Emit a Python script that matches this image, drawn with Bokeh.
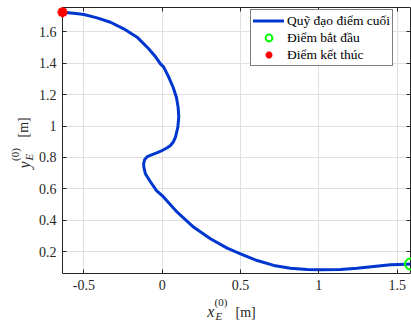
import math
from bokeh.plotting import figure
from bokeh.models import Range1d, FixedTicker, LinearAxis, Legend, LegendItem
from bokeh.core.properties import value
from bokeh.embed import file_html
from bokeh.resources import INLINE

# Trajectory of the end effector (from start to end)
traj_x = [1.585, 1.564, 1.457, 1.350, 1.244, 1.138, 1.010, 0.925, 0.819, 0.712,
          0.606, 0.500, 0.415, 0.308, 0.202, 0.096, 0.000, -0.036, -0.075, -0.107,
          -0.117, -0.118, -0.112, -0.095, -0.064, -0.030, 0.000, 0.030, 0.053, 0.072,
          0.085, 0.100, 0.106, 0.102, 0.091, 0.070, 0.042, 0.010, -0.011, -0.045,
          -0.086, -0.160, -0.245, -0.330, -0.415, -0.500, -0.564, -0.636]
traj_y = [0.121, 0.120, 0.116, 0.105, 0.094, 0.086, 0.084, 0.086, 0.094, 0.112,
          0.143, 0.186, 0.222, 0.282, 0.355, 0.451, 0.557, 0.589, 0.645, 0.696,
          0.738, 0.760, 0.785, 0.805, 0.818, 0.830, 0.844, 0.860, 0.876, 0.900,
          0.929, 0.992, 1.056, 1.120, 1.183, 1.247, 1.311, 1.375, 1.396, 1.445,
          1.492, 1.566, 1.619, 1.661, 1.689, 1.710, 1.718, 1.725]
start_x = [1.585]
start_y = [0.121]
end_x = [-0.636]
end_y = [1.725]

x_ticks = [-0.5, 0, 0.5, 1, 1.5]
x_tick_labels = ["-0.5", "0", "0.5", "1", "1.5"]
y_ticks = [0.2, 0.4, 0.6, 0.8, 1.0, 1.2, 1.4, 1.6]
y_tick_labels = ["0.2", "0.4", "0.6", "0.8", "1", "1.2", "1.4", "1.6"]

legend_labels = ["Quỹ đạo điểm cuối", "Điểm bắt đầu", "Điểm kết thúc"]

FONT = "Liberation Serif"
AX_COLOR = "#262626"

X0, X1 = -0.636, 1.585
Y0, Y1 = 0.0605, 1.755
FL, FR, FT, FB = 62, 410, 7, 273  # frame edges in canvas pixels

p = figure(width=411, height=321, output_backend="svg", toolbar_location=None,
           x_range=Range1d(X0, X1), y_range=Range1d(Y0, Y1),
           min_border_left=FL, min_border_right=411 - FR, min_border_top=FT,
           min_border_bottom=321 - FB)
p.background_fill_color = "white"
p.border_fill_color = "white"
p.outline_line_color = None

def style_axis(ax, labels, ticks, show_labels):
    ax.ticker = FixedTicker(ticks=ticks)
    ax.axis_line_color = AX_COLOR
    ax.axis_line_width = 1
    ax.major_tick_line_color = AX_COLOR
    ax.major_tick_in = 4
    ax.major_tick_out = 0
    ax.minor_tick_line_color = None
    if show_labels:
        ax.major_label_overrides = {t: l for t, l in zip(ticks, labels)}
        ax.major_label_text_font = FONT
        ax.major_label_text_font_size = "14px"
        ax.major_label_text_color = AX_COLOR
        ax.major_label_standoff = 6
    else:
        ax.major_label_overrides = {t: "" for t in ticks}
        ax.major_label_text_font_size = "0px"
        ax.major_label_standoff = 0

style_axis(p.xaxis[0], x_tick_labels, x_ticks, True)
style_axis(p.yaxis[0], y_tick_labels, y_ticks, True)
top_ax = LinearAxis()
right_ax = LinearAxis()
style_axis(top_ax, x_tick_labels, x_ticks, False)
style_axis(right_ax, y_tick_labels, y_ticks, False)
p.add_layout(top_ax, "above")
p.add_layout(right_ax, "right")

p.xgrid.ticker = FixedTicker(ticks=x_ticks)
p.ygrid.ticker = FixedTicker(ticks=y_ticks)
p.grid.grid_line_color = "#e0e0e0"
p.grid.grid_line_width = 1

r_line = p.line(traj_x, traj_y, line_width=3, line_color="#0036d0",
                line_join="round", line_cap="round")
r_start = p.scatter(start_x, start_y, marker="circle", size=11,
                    line_color="#00ff00", fill_color=None, line_width=2,
                    level="overlay")
r_end = p.scatter(end_x, end_y, marker="asterisk", size=10,
                  line_color="#ff0000", line_width=3, level="overlay")

legend = Legend(items=[LegendItem(label=legend_labels[0], renderers=[r_line]),
                       LegendItem(label=legend_labels[1], renderers=[r_start]),
                       LegendItem(label=legend_labels[2], renderers=[r_end])],
                location=(188, 207))
legend.label_text_font = FONT
legend.label_text_font_size = "13.5px"
legend.label_text_color = "black"
legend.glyph_width = 31
legend.glyph_height = 17
legend.label_height = 17
legend.spacing = 0
legend.padding = 2
legend.margin = 0
legend.label_standoff = 3
legend.border_line_color = "black"
legend.border_line_width = 1
legend.background_fill_color = "white"
legend.background_fill_alpha = 1
p.add_layout(legend)

def cx(px):
    return X0 + (px - FL) / (FR - FL) * (X1 - X0)

def cy(py):
    return Y0 + (FB - py) / (FB - FT) * (Y1 - Y0)

def lab(px, py, text, size, italic=False, angle=0.0):
    p.text(x=[cx(px)], y=[cy(py)], text=[text], level="overlay",
           text_font=value(FONT), text_font_size=value(size),
           text_font_style="italic" if italic else "normal",
           text_color=AX_COLOR, text_align="left",
           text_baseline="alphabetic", angle=angle)

# x axis label: x_E^(0) [m]
lab(206.7, 311, "x", "16px", italic=True)
lab(214, 301, "(0)", "11px")
lab(215, 315, "E", "11px", italic=True)
lab(235, 312, "[m]", "14px")

# y axis label: y_E^(0) [m]
A = math.pi / 2
lab(24, 168, "y", "16px", italic=True, angle=A)
lab(14, 160.5, "(0)", "11px", angle=A)
lab(28, 160, "E", "11px", italic=True, angle=A)
lab(23, 137, "[m]", "14px", angle=A)

open("out.html", "w").write(file_html(p, INLINE))
